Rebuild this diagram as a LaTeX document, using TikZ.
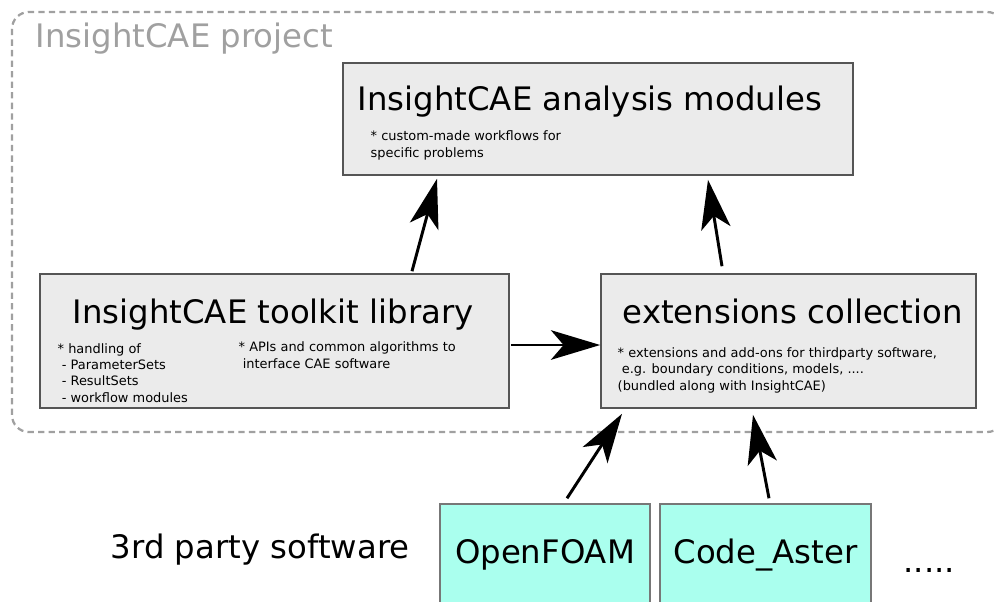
\documentclass[tikz,border=0pt]{standalone}
\usepackage{fontspec}
\setmainfont{DejaVu Sans}
\usetikzlibrary{arrows.meta,calc}
\definecolor{boxgray}{HTML}{EBEBEB}
\definecolor{edgegray}{HTML}{555555}
\definecolor{aquabox}{HTML}{AAFFEE}
\definecolor{framegray}{HTML}{A0A0A0}
\tikzset{
  every picture/.style={
    line width=1pt
  },
  modbox/.style={draw=edgegray, fill=boxgray, line width=1.1pt, inner sep=0pt},
  softbox/.style={draw=edgegray!80, fill=aquabox, line width=1pt, inner sep=0pt},
  bigtxt/.style={font=\fontsize{23}{27}\selectfont, anchor=base west, inner sep=0pt},
  % multi-line: base is the last line
  smalltxt/.style={font=\fontsize{9.2}{11.4}\selectfont, anchor=base west, align=left, inner sep=0pt},
  uses/.style={-{Stealth[length=35pt, width=21pt, inset=9pt]}, line width=2.1pt},
  % project frame
  projframe/.style={draw=framegray, dash pattern=on 4.5pt off 3pt, line width=1.6pt, rounded corners=12pt}
}

\begin{document}
\begin{tikzpicture}[x=0.025cm, y=-0.025cm]
  \clip (0,0) rectangle (994,601);
  \draw[projframe] (12,12) rectangle (1004,432);
  \node[bigtxt, text=framegray] (proj) at (35,47) {InsightCAE project};

  \node[modbox, minimum width=12.75cm, minimum height=2.8cm] (ana) at (598,119) {};
  \node[modbox, minimum width=11.725cm, minimum height=3.35cm] (tk) at (274.5,341) {};
  \node[modbox, minimum width=9.375cm, minimum height=3.35cm] (ext) at (788.5,341) {};
  \node[softbox, minimum width=5.25cm, minimum height=2.9cm] (of) at (545,562) {};
  \node[softbox, minimum width=5.275cm, minimum height=2.9cm] (ca) at (765.5,562) {};

  \node[bigtxt] (anaT) at (357,110) {InsightCAE analysis modules};
  \node[smalltxt] (anaS) at (370,157) {* custom-made workflows for\\specific problems};

  \node[bigtxt] (tkT) at (72,323) {InsightCAE toolkit library};
  \node[smalltxt] (tkL) at (57,402) {* handling of\\\ - ParameterSets\\\ - ResultSets\\\ - workflow modules};
  \node[smalltxt] (tkR) at (238,368) {* APIs and common algorithms to\\\ interface CAE software};

  \node[bigtxt] (extT) at (622,323) {extensions collection};
  \node[smalltxt] (extS) at (617,390) {* extensions and add-ons for thirdparty software,\\\ e.g. boundary conditions, models, ....\\(bundled along with InsightCAE)};

  \node[bigtxt, anchor=base] (ofT) at (545,563) {OpenFOAM};
  \node[bigtxt, anchor=base] (caT) at (765.5,563) {Code\_Aster};
  \node[bigtxt] (third) at (110,558) {3rd party software};
  \node[bigtxt] (more) at (903,572) {.....};

  \draw[uses] ($(tk.north)+(137.5,-2)$) -- ($(ana.south)+(-161,3)$);
  \draw[uses] ($(ext.north)+(-66.5,-7)$) -- ($(ana.south)+(110,4)$);
  \draw[uses] ($(tk.east)+(1,4)$) -- ($(ext.west)+(0,4)$);
  \draw[uses] ($(of.north)+(22,-5)$) -- ($(ext.south)+(-166.5,5)$);
  \draw[uses] ($(ca.north)+(3.5,-5)$) -- ($(ext.south)+(-35.5,6)$);
\end{tikzpicture}
\end{document}
